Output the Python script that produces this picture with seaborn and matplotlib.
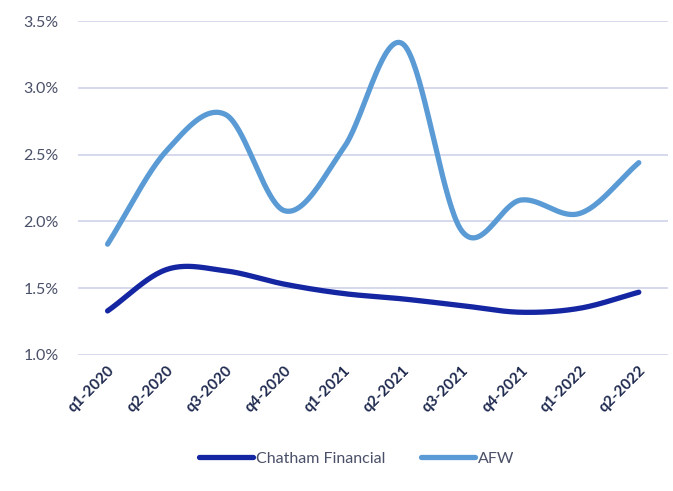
import numpy as np
import pandas as pd
import matplotlib
matplotlib.use("Agg")
import matplotlib.pyplot as plt
import seaborn as sns
from matplotlib.ticker import FuncFormatter

quarters = ["q1-2020", "q2-2020", "q3-2020", "q4-2020", "q1-2021",
            "q2-2021", "q3-2021", "q4-2021", "q1-2022", "q2-2022"]
chatham = [1.33, 1.64, 1.63, 1.53, 1.46, 1.42, 1.37, 1.32, 1.35, 1.47]
afw = [1.83, 2.53, 2.80, 2.08, 2.55, 3.33, 1.93, 2.16, 2.06, 2.44]
series_names = ["Chatham Financial", "AFW"]
colors = ["#1526a3", "#5b9bd5"]


def catmull_rom(y, n=40):
    y = np.asarray(y, dtype=float)
    x = np.arange(len(y), dtype=float)
    p = np.concatenate([[2 * y[0] - y[1]], y, [2 * y[-1] - y[-2]]])
    xs, ys = [], []
    for i in range(len(y) - 1):
        p0, p1, p2, p3 = p[i], p[i + 1], p[i + 2], p[i + 3]
        t = np.linspace(0, 1, n, endpoint=False)
        m1 = (p2 - p0) / 2
        m2 = (p3 - p1) / 2
        h00 = 2 * t**3 - 3 * t**2 + 1
        h10 = t**3 - 2 * t**2 + t
        h01 = -2 * t**3 + 3 * t**2
        h11 = t**3 - t**2
        ys.append(h00 * p1 + h10 * m1 + h01 * p2 + h11 * m2)
        xs.append(x[i] + t)
    xs.append([x[-1]])
    ys.append([y[-1]])
    return np.concatenate(xs), np.concatenate(ys)


frames = []
for name, vals in zip(series_names, [chatham, afw]):
    xs, ys = catmull_rom(vals)
    frames.append(pd.DataFrame({"x": xs, "y": ys, "series": name}))
df = pd.concat(frames, ignore_index=True)

sns.set_theme(style="white")
plt.rcParams["font.family"] = ["Lato", "DejaVu Sans"]

fig = plt.figure(figsize=(6.73, 4.91), dpi=100)
ax = fig.add_axes([0.116, 0.277, 0.877, 0.680])

sns.lineplot(data=df, x="x", y="y", hue="series", palette=colors,
             hue_order=series_names, linewidth=3.8, ax=ax, sort=False,
             estimator=None, legend=True)
for line in ax.lines:
    line.set_solid_capstyle("round")
    line.set_clip_on(False)

ax.set_xlim(-0.5, len(quarters) - 0.5)
ax.set_ylim(1.0, 3.5)
ax.set_yticks([1.0, 1.5, 2.0, 2.5, 3.0, 3.5])
ax.yaxis.set_major_formatter(FuncFormatter(lambda v, p: f"{v:.1f}%"))
ax.set_xticks(range(len(quarters)))
ax.set_xticklabels(quarters, rotation=45, ha="right", rotation_mode="anchor",
                   fontsize=11, fontweight="bold", color="#1f2a4f")
for lab in ax.get_yticklabels():
    lab.set_color("#4a5068")
    lab.set_fontsize(11.5)
ax.tick_params(axis="y", length=0, pad=14)
ax.tick_params(axis="x", length=0, pad=6)
ax.grid(axis="y", color="#d3d7ec", linewidth=1.3)
ax.set_axisbelow(True)
for s in ax.spines.values():
    s.set_visible(False)
ax.set_xlabel("")
ax.set_ylabel("")

handles, labels = ax.get_legend_handles_labels()
ax.get_legend().remove()
leg = fig.legend(handles, labels, loc="center", bbox_to_anchor=(0.53, 0.066),
                 bbox_transform=fig.transFigure, ncol=2, frameon=False,
                 fontsize=11.5, handlelength=3.4, columnspacing=2.2,
                 handletextpad=0.2)
for t in leg.get_texts():
    t.set_color("#4a5068")
for h in leg.get_lines():
    h.set_linewidth(3.8)
    h.set_solid_capstyle("round")

fig.savefig("out.png", dpi=100)
